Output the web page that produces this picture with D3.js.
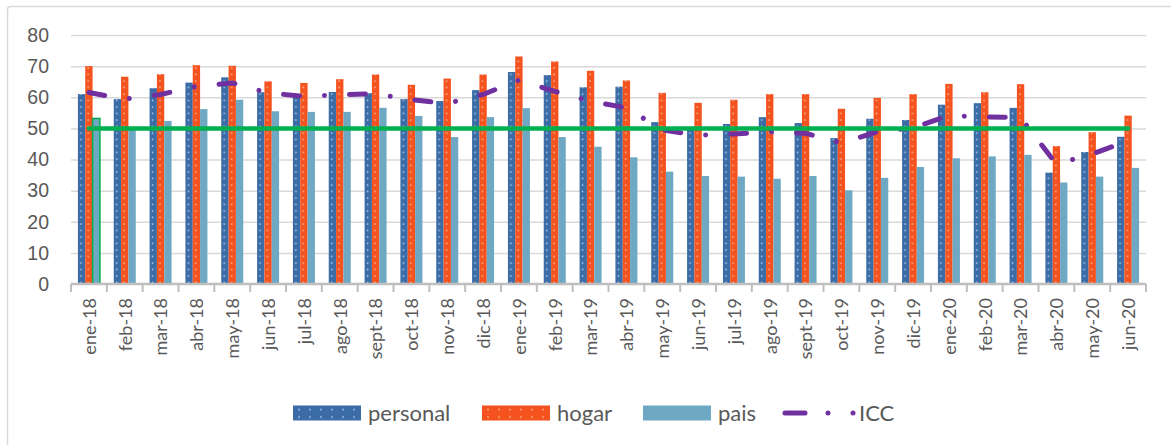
<!DOCTYPE html>
<html>
<head>
<meta charset="utf-8">
<script src="https://cdn.jsdelivr.net/npm/d3@7/dist/d3.min.js"></script>
<style>
  body { margin: 0; background: #fff; }
  svg { display: block; font-family: Lato, "Open Sans", sans-serif; }
</style>
</head>
<body>
<svg id="chart" width="1171" height="445"></svg>
<script>
// datos
const meses = ['ene-18','feb-18','mar-18','abr-18','may-18','jun-18','jul-18','ago-18','sept-18','oct-18','nov-18','dic-18',
  'ene-19','feb-19','mar-19','abr-19','may-19','jun-19','jul-19','ago-19','sept-19','oct-19','nov-19','dic-19',
  'ene-20','feb-20','mar-20','abr-20','may-20','jun-20']
const personal = [61, 59.4, 62.9, 64.7, 66.4, 61.6, 60.2, 61.7, 61.3, 59.4, 58.8, 62.3,
  68.1, 67.1, 63.2, 63.4, 52, 50.5, 51.4, 53.6, 51.7, 46.9, 53.1, 52.7,
  57.6, 58.1, 56.6, 35.8, 42.4, 47.3]
const hogar = [70, 66.6, 67.4, 70.3, 70.1, 65.1, 64.6, 65.8, 67.3, 64, 66, 67.3,
  73.1, 71.5, 68.5, 65.4, 61.4, 58.2, 59.2, 61, 61, 56.3, 59.8, 61,
  64.3, 61.6, 64.2, 44.3, 48.8, 54.1]
const pais = [53.2, 50.3, 52.4, 56.2, 59.2, 55.5, 55.3, 55.3, 56.6, 54, 47.2, 53.6,
  56.5, 47.2, 44.1, 40.7, 36.1, 34.7, 34.5, 33.8, 34.7, 30.1, 34.1, 37.6,
  40.4, 41, 41.5, 32.6, 34.5, 37.3]
const icc = [61.5, 59.4, 60.9, 63.5, 64.6, 61.4, 60.3, 60.8, 61.1, 59.2, 58.0, 60.9,
  65.5, 61.9, 58.7, 56.6, 49.5, 47.8, 48.2, 48.9, 48.4, 45.3, 48.9, 50.2,
  54.1, 53.7, 53.5, 38.5, 41.8, 46]
const umbral = 50
const ticksY = [0, 10, 20, 30, 40, 50, 60, 70, 80]
const series = ['personal', 'hogar', 'pais']

const colors = { personal: '#3b6ca6', hogar: '#f4521f', pais: '#6ea8c3' }
const dotColors = { personal: '#a9c6e8', hogar: '#fbb48f' }

const svg = d3.select('#chart')
const plotL = 71, plotR = 1146, plotT = 35, plotB = 284

const x = d3.scaleBand().domain(meses).range([plotL, plotR])
const xs = d3.scaleBand().domain(series).range([x.bandwidth() / 2 - 11, x.bandwidth() / 2 + 11])
const y = d3.scaleLinear().domain([0, 80]).range([plotB, plotT])

// marco
svg.append('rect')
  .attr('x', 7.5).attr('y', 6.5)
  .attr('width', 1190).attr('height', 460)
  .attr('rx', 3)
  .attr('fill', 'none')
  .attr('stroke', '#d9d9d9')
  .attr('stroke-width', 1.5)

// patrones de puntos
const defs = svg.append('defs')
Object.keys(dotColors).forEach(s => {
  const p = defs.append('pattern')
    .attr('id', 'pat-' + s)
    .attr('patternUnits', 'userSpaceOnUse')
    .attr('x', plotL).attr('y', 0)
    .attr('width', x.bandwidth()).attr('height', 6.5)
  p.append('rect')
    .attr('width', x.bandwidth()).attr('height', 6.5)
    .attr('fill', colors[s])
  p.append('circle')
    .attr('cx', xs(s) + xs.bandwidth() / 2)
    .attr('cy', 3)
    .attr('r', 0.9)
    .attr('fill', dotColors[s])
})

// eje y + grilla
const yAxis = svg.append('g')
  .attr('transform', `translate(${plotL},0)`)
  .call(d3.axisLeft(y).tickValues(ticksY).tickSize(-(plotR - plotL)).tickPadding(22))
yAxis.select('.domain').remove()
yAxis.selectAll('line')
  .attr('stroke', '#d9d9d9')
  .attr('stroke-width', 1.5)
  .filter(d => d === 0).remove()
yAxis.selectAll('text')
  .attr('fill', '#595959')
  .style('font-size', '19.5px')

// barras
const groups = svg.append('g').selectAll('g')
  .data(meses)
  .join('g')
  .attr('transform', d => `translate(${x(d)},0)`)

const valores = { personal, hogar, pais }
groups.selectAll('rect')
  .data((d, i) => series.map(s => ({ s, v: valores[s][i], i })))
  .join('rect')
  .attr('x', d => xs(d.s))
  .attr('y', d => y(d.v))
  .attr('width', xs.bandwidth())
  .attr('height', d => y(0) - y(d.v))
  .attr('fill', d => d.s === 'pais' ? colors.pais : `url(#pat-${d.s})`)
  .attr('stroke', d => d.s === 'pais' && d.i === 0 ? '#00b050' : 'none')
  .attr('stroke-width', 1.5)

// eje x
const xAxis = svg.append('g')
  .attr('transform', `translate(0,${plotB})`)
xAxis.append('line')
  .attr('x1', plotL).attr('x2', plotR)
  .attr('stroke', '#bfbfbf')
  .attr('stroke-width', 2.5)
xAxis.selectAll('.tk')
  .data(meses.concat(['fin']))
  .join('line')
  .attr('class', 'tk')
  .attr('x1', (d, i) => plotL + i * x.bandwidth())
  .attr('x2', (d, i) => plotL + i * x.bandwidth())
  .attr('y1', 0).attr('y2', 8)
  .attr('stroke', '#bfbfbf')
  .attr('stroke-width', 2)
xAxis.selectAll('.lbl')
  .data(meses)
  .join('text')
  .attr('class', 'lbl')
  .attr('transform', d => `translate(${x(d) + x.bandwidth() / 2},14) rotate(-90)`)
  .attr('dy', '0.38em')
  .attr('text-anchor', 'end')
  .attr('fill', '#595959')
  .style('font-size', '18px')
  .text(d => d)

// ICC
const line = d3.line()
  .x((d, i) => x(meses[i]) + x.bandwidth() / 2)
  .y(d => y(d))
svg.append('path')
  .datum(icc)
  .attr('d', line)
  .attr('fill', 'none')
  .attr('stroke', '#7030a0')
  .attr('stroke-width', 5)
  .attr('stroke-linecap', 'round')
  .attr('stroke-linejoin', 'round')
  .attr('stroke-dasharray', '16,25,0.01,25')

// linea de 50
svg.append('line')
  .attr('x1', x(meses[0]) + x.bandwidth() / 2)
  .attr('x2', x(meses[meses.length - 1]) + x.bandwidth() / 2)
  .attr('y1', y(umbral)).attr('y2', y(umbral))
  .attr('stroke', '#00b050')
  .attr('stroke-width', 4.5)
  .attr('stroke-linecap', 'round')

// leyenda
const legX = [293, 482, 643, 785]
Object.keys(dotColors).forEach((s, i) => {
  const p = defs.append('pattern')
    .attr('id', 'pat-leg-' + s)
    .attr('patternUnits', 'userSpaceOnUse')
    .attr('x', legX[i] + 4).attr('y', 413 - 7.5)
    .attr('width', 11).attr('height', 7.5)
  p.append('rect').attr('width', 11).attr('height', 7.5).attr('fill', colors[s])
  p.append('circle').attr('cx', 2).attr('cy', 3.5).attr('r', 0.9).attr('fill', dotColors[s])
})
const legend = svg.append('g').attr('transform', 'translate(0,413)')
series.forEach((s, i) => {
  legend.append('rect')
    .attr('x', legX[i]).attr('y', -7.5)
    .attr('width', 68).attr('height', 15)
    .attr('fill', s === 'pais' ? colors.pais : `url(#pat-leg-${s})`)
  legend.append('text')
    .attr('x', legX[i] + 75).attr('y', 0)
    .attr('dy', '0.36em')
    .attr('fill', '#595959')
    .style('font-size', '22px')
    .text(s)
})
legend.append('path')
  .attr('d', `M${legX[3]},0H${legX[3] + 20}M${legX[3] + 43},0h0.01M${legX[3] + 68},0h0.01`)
  .attr('stroke', '#7030a0')
  .attr('stroke-width', 5)
  .attr('stroke-linecap', 'round')
legend.append('text')
  .attr('x', legX[3] + 74).attr('y', 0)
  .attr('dy', '0.36em')
  .attr('fill', '#595959')
  .style('font-size', '22px')
  .text('ICC')
</script>
</body>
</html>
